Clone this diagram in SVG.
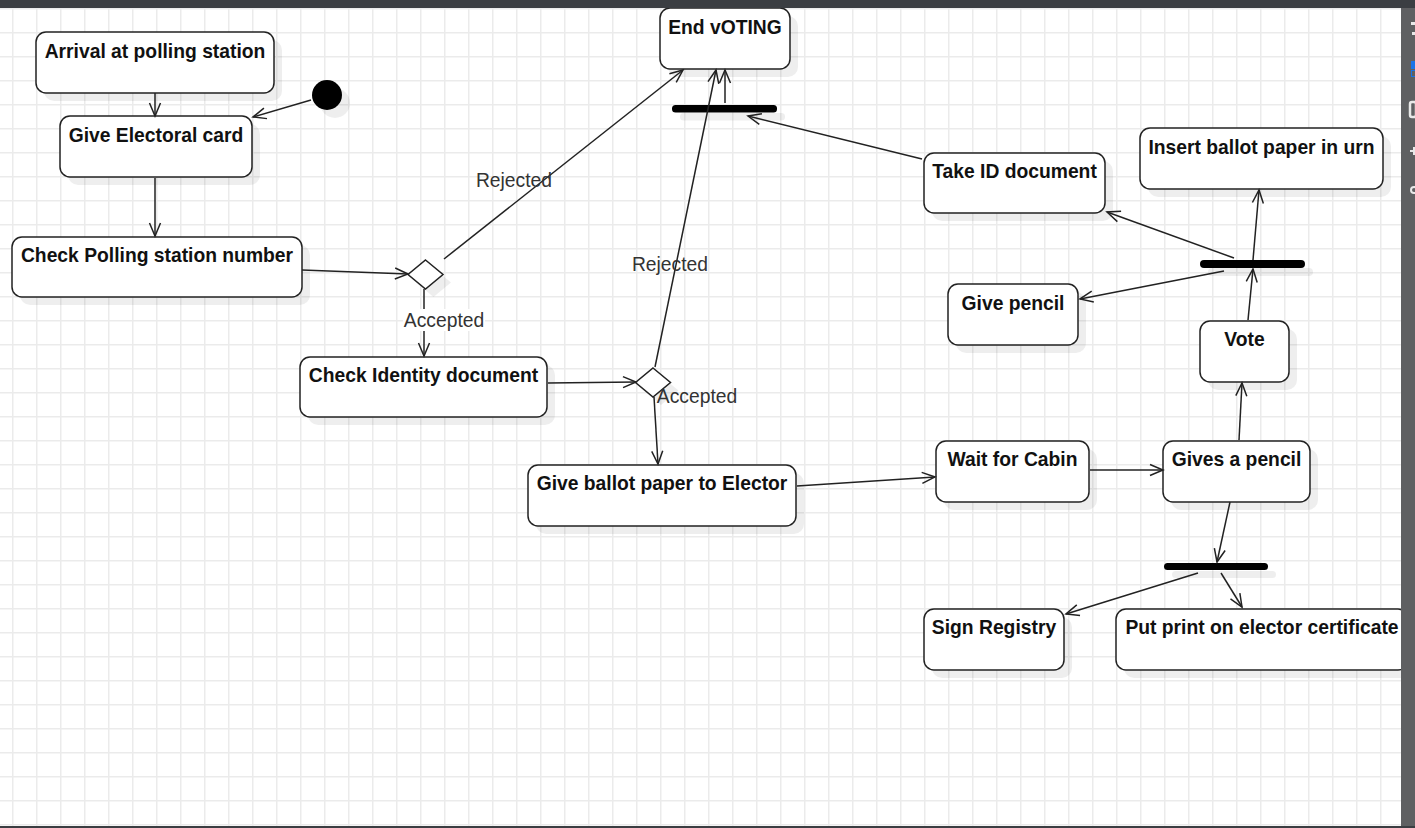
<svg xmlns="http://www.w3.org/2000/svg" width="1415" height="828" viewBox="0 0 1415 828">
<defs>
<pattern id="grid" x="12" y="8" width="24" height="24" patternUnits="userSpaceOnUse">
<rect width="24" height="24" fill="#ffffff"/>
<rect x="0" y="0" width="1.5" height="24" fill="#ebebeb"/>
<rect x="0" y="0" width="24" height="1.5" fill="#ebebeb"/>
</pattern>
<marker id="arr" viewBox="-15 -8 17 16" refX="0" refY="0" markerWidth="17" markerHeight="16" markerUnits="userSpaceOnUse" orient="auto">
<path d="M-13,-5.5 L0,0 L-13,5.5" fill="none" stroke="#222" stroke-width="1.5"/>
</marker>
<style>
.box{fill:#fff;stroke:#222;stroke-width:1.5}
.sh{fill:#000;fill-opacity:0.065}
.t{font-family:"Liberation Sans",Arial,sans-serif;font-weight:bold;font-size:19.3px;fill:#111;text-anchor:middle}
.lbl{font-family:"Liberation Sans",Arial,sans-serif;font-size:19.3px;fill:#333;text-anchor:middle}
.c{fill:none;stroke:#222;stroke-width:1.5;marker-end:url(#arr)}
.bar{fill:#000}
</style>
</defs>
<rect x="0" y="0" width="1415" height="828" fill="url(#grid)"/>

<g id="start">
<circle cx="335" cy="103" r="15" class="sh"/>
<circle cx="327" cy="95" r="15" fill="#000"/>
</g>
<g id="arrival">
<rect x="44" y="40" width="238" height="61" rx="10" class="sh"/>
<rect x="36" y="32" width="238" height="61" rx="10" class="box"/>
<text x="155" y="58" class="t">Arrival at polling station</text>
</g>
<g id="giveElectoral">
<rect x="68" y="124" width="192" height="61" rx="10" class="sh"/>
<rect x="60" y="116" width="192" height="61" rx="10" class="box"/>
<text x="156" y="142" class="t">Give Electoral card</text>
</g>
<g id="checkPolling">
<rect x="20" y="245" width="290" height="60" rx="10" class="sh"/>
<rect x="12" y="237" width="290" height="60" rx="10" class="box"/>
<text x="157" y="262" class="t">Check Polling station number</text>
</g>
<g id="decision1">
<path d="M433.5,268 L451,282.5 L433.5,297 L416,282.5 Z" class="sh"/>
<path d="M425.5,260 L443,274.5 L425.5,289 L408,274.5 Z" class="box"/>
</g>
<g id="checkIdentity">
<rect x="308" y="365" width="247" height="60" rx="10" class="sh"/>
<rect x="300" y="357" width="247" height="60" rx="10" class="box"/>
<text x="423.5" y="382" class="t">Check Identity document</text>
</g>
<g id="decision2">
<path d="M661,376 L678.5,390.5 L661,405 L643.5,390.5 Z" class="sh"/>
<path d="M653,368 L670.5,382.5 L653,397 L635.5,382.5 Z" class="box"/>
</g>
<g id="giveBallot">
<rect x="536" y="473" width="268" height="61" rx="10" class="sh"/>
<rect x="528" y="465" width="268" height="61" rx="10" class="box"/>
<text x="662" y="490" class="t">Give ballot paper to Elector</text>
</g>
<g id="waitCabin">
<rect x="944" y="449" width="153" height="61" rx="10" class="sh"/>
<rect x="936" y="441" width="153" height="61" rx="10" class="box"/>
<text x="1012.5" y="466" class="t">Wait for Cabin</text>
</g>
<g id="givesPencil">
<rect x="1171" y="449" width="147" height="61" rx="10" class="sh"/>
<rect x="1163" y="441" width="147" height="61" rx="10" class="box"/>
<text x="1236.5" y="466" class="t">Gives a pencil</text>
</g>
<g id="fork3">
<rect x="1172" y="571" width="104" height="7" rx="3.5" class="sh"/>
<rect x="1164" y="563" width="104" height="7" rx="3.5" class="bar"/>
</g>
<g id="signRegistry">
<rect x="932" y="617" width="140" height="61" rx="10" class="sh"/>
<rect x="924" y="609" width="140" height="61" rx="10" class="box"/>
<text x="994" y="634" class="t">Sign Registry</text>
</g>
<g id="putPrint">
<rect x="1124" y="617" width="292" height="61" rx="10" class="sh"/>
<rect x="1116" y="609" width="292" height="61" rx="10" class="box"/>
<text x="1262" y="634" class="t">Put print on elector certificate</text>
</g>
<g id="vote">
<rect x="1208" y="329" width="89" height="61" rx="10" class="sh"/>
<rect x="1200" y="321" width="89" height="61" rx="10" class="box"/>
<text x="1244.5" y="346" class="t">Vote</text>
</g>
<g id="fork2">
<rect x="1208" y="268" width="105" height="8" rx="4" class="sh"/>
<rect x="1200" y="260" width="105" height="8" rx="4" class="bar"/>
</g>
<g id="insertBallot">
<rect x="1148" y="136" width="243" height="61" rx="10" class="sh"/>
<rect x="1140" y="128" width="243" height="61" rx="10" class="box"/>
<text x="1261.5" y="154" class="t">Insert ballot paper in urn</text>
</g>
<g id="givePencil">
<rect x="956" y="292" width="130" height="61" rx="10" class="sh"/>
<rect x="948" y="284" width="130" height="61" rx="10" class="box"/>
<text x="1013" y="310" class="t">Give pencil</text>
</g>
<g id="takeID">
<rect x="932" y="161" width="181" height="60" rx="10" class="sh"/>
<rect x="924" y="153" width="181" height="60" rx="10" class="box"/>
<text x="1014.5" y="178" class="t">Take ID document</text>
</g>
<g id="fork1">
<rect x="680" y="113" width="105" height="7.5" rx="3.5" class="sh"/>
<rect x="672" y="105" width="105" height="7.5" rx="3.5" class="bar"/>
</g>
<g id="endVoting">
<rect x="668" y="16" width="130" height="61" rx="10" class="sh"/>
<rect x="660" y="8" width="130" height="61" rx="10" class="box"/>
<text x="725" y="34" class="t">End vOTING</text>
</g>

<g id="connectors">
<path d="M311,100 L253,117" class="c"/>
<path d="M155,93 L155,116" class="c"/>
<path d="M155,178 L155,236" class="c"/>
<path d="M302,270 L408,274" class="c"/>
<path d="M444,259 L683,70" class="c"/>
<path d="M424,289 L424,356" class="c"/>
<path d="M548,383 L636,382" class="c"/>
<path d="M655,367 L716,70" class="c"/>
<path d="M654,397 L658,464" class="c"/>
<path d="M797,486 L935,477" class="c"/>
<path d="M1090,470 L1163,470" class="c"/>
<path d="M1230,502 L1217,562" class="c"/>
<path d="M1198,573 L1066,614" class="c"/>
<path d="M1221,573 L1242,607" class="c"/>
<path d="M1239,440 L1242,383" class="c"/>
<path d="M1248,320 L1253,269" class="c"/>
<path d="M1253,260 L1259,190" class="c"/>
<path d="M1234,258 L1107,212" class="c"/>
<path d="M1224,271 L1080,299" class="c"/>
<path d="M922,159 L748,116" class="c"/>
<path d="M725,103 L725,70" class="c"/>
<text x="514" y="187" class="lbl">Rejected</text>
<rect x="403" y="309" width="82" height="22" fill="#fff"/>
<text x="444" y="327" class="lbl">Accepted</text>
<text x="670" y="271" class="lbl">Rejected</text>
<text x="697" y="403" class="lbl">Accepted</text>
</g>

<g id="chrome">
<rect x="0" y="0" width="1415" height="8" fill="#3b3e42"/>
<rect x="0" y="826" width="1415" height="2" fill="#3b3e42"/>
<rect x="1401" y="8" width="14" height="818" fill="#5f6062"/>
<rect x="1411" y="22" width="4" height="3" fill="#e8e8e8"/>
<rect x="1412" y="32" width="3" height="3" fill="#e8e8e8"/>
<rect x="1411" y="61" width="4" height="8" fill="#1a73e8"/>
<rect x="1411.5" y="70.5" width="4" height="6" fill="none" stroke="#1a73e8" stroke-width="1"/>
<rect x="1410" y="102" width="6" height="15" rx="2" fill="none" stroke="#e8e8e8" stroke-width="2.5"/>
<rect x="1410" y="150" width="5" height="2" fill="#e8e8e8"/>
<rect x="1413" y="147" width="2" height="8" fill="#e8e8e8"/>
<circle cx="1414" cy="190" r="3" fill="none" stroke="#e8e8e8" stroke-width="2"/>
</g>
</svg>
